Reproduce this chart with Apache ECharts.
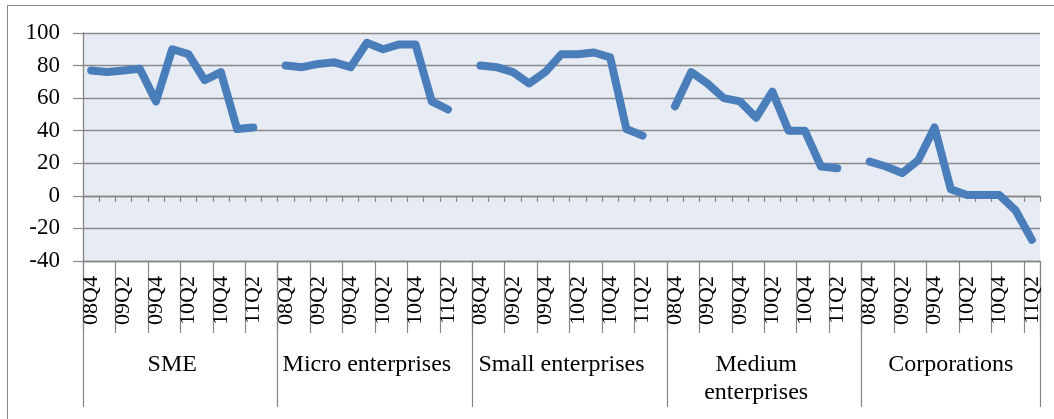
<!DOCTYPE html>
<html>
<head>
<meta charset="utf-8">
<script src="https://cdn.jsdelivr.net/npm/echarts@6/dist/echarts.min.js"></script>
<style>
  html, body { margin: 0; padding: 0; background: #fff; overflow: hidden; }
  #wrap { position: relative; width: 1054px; height: 419px; overflow: hidden; background: #fff; }
  #frame { position: absolute; left: 7px; top: 5px; width: 1100px; height: 500px;
           border: 1.5px solid #8a8a8a; box-sizing: border-box; }
  #chart { position: absolute; left: 0; top: 0; width: 1054px; height: 419px; }
</style>
</head>
<body>
<div id="wrap"><div id="frame"></div><div id="chart"></div></div>
<script>
// Enterprise groups and the quarters reported for each of them
const groups = ['SME', 'Micro enterprises', 'Small enterprises', 'Medium\nenterprises', 'Corporations'];
const quarters = ['08Q4', '09Q1', '09Q2', '09Q3', '09Q4', '10Q1', '10Q2', '10Q3', '10Q4', '11Q1', '11Q2'];

// Values per group, one per quarter
const sme          = [77, 76, 77, 78, 58, 90, 87, 71, 76, 41, 42];
const micro        = [80, 79, 81, 82, 79, 94, 90, 93, 93, 58, 53];
const small        = [80, 79, 76, 69, 76, 87, 87, 88, 85, 41, 37];
const medium       = [55, 76, 69, 60, 58, 48, 64, 40, 40, 18, 17];
const corporations = [21, 18, 14, 22, 42, 4, 0.5, 0.5, 0.5, -9, -27];

// Value axis ticks
const yMin = -40, yMax = 100, yStep = 20;

const FONT = '"Liberation Serif", "Times New Roman", serif';
const axisGray = '#868686';
const gridGray = '#8a8a8a';

// Flatten groups onto one category axis, with an empty slot between groups
const groupValues = [sme, micro, small, medium, corporations];
const quarterCats = [];
const groupCats = [];
const values = [];
const groupStarts = [];
groupValues.forEach((vals, g) => {
  groupStarts.push(quarterCats.length);
  quarters.forEach((q, i) => {
    quarterCats.push(q);
    groupCats.push(i === 5 ? groups[g] : '');
    values.push(vals[i]);
  });
  if (g < groupValues.length - 1) {
    quarterCats.push('');
    groupCats.push('');
    values.push(null);
  }
});

const chart = echarts.init(document.getElementById('chart'), null, { renderer: 'canvas' });
chart.setOption({
  animation: false,
  backgroundColor: 'transparent',
  grid: {
    left: 83, right: 14, top: 33, bottom: 158,
    show: true, backgroundColor: '#e6ebf4', borderWidth: 0
  },
  xAxis: [
    {
      // axis line crossing at zero, with a tick per quarter
      type: 'category', data: quarterCats, position: 'bottom', boundaryGap: true,
      axisLine: { show: true, onZero: true, lineStyle: { color: axisGray, width: 1.3 } },
      axisTick: { show: true, interval: 0, length: 6, lineStyle: { color: axisGray, width: 1.2 } },
      axisLabel: { show: false },
      splitLine: { show: false }
    },
    {
      // quarter labels along the bottom
      type: 'category', data: quarterCats, position: 'bottom', boundaryGap: true,
      axisLine: { show: true, onZero: false, lineStyle: { color: axisGray, width: 1.3 } },
      axisTick: { show: true, interval: 1, length: 72, lineStyle: { color: axisGray, width: 1.2 } },
      axisLabel: {
        interval: 1, rotate: 90, margin: 15,
        fontFamily: FONT, fontSize: 22, color: '#000'
      },
      splitLine: { show: false }
    },
    {
      // enterprise group labels
      type: 'category', data: groupCats, position: 'bottom', boundaryGap: true,
      axisLine: { show: false, onZero: false },
      axisTick: {
        show: true, length: 146, lineStyle: { color: axisGray, width: 1.2 },
        interval: (idx) => groupStarts.indexOf(idx) !== -1
      },
      axisLabel: {
        interval: 0, margin: 90,
        fontFamily: FONT, fontSize: 24, lineHeight: 28, color: '#000'
      },
      splitLine: { show: false }
    }
  ],
  yAxis: {
    type: 'value', min: yMin, max: yMax, interval: yStep,
    axisLine: { show: true, lineStyle: { color: axisGray, width: 1.3 } },
    axisTick: { show: true, length: 10, lineStyle: { color: axisGray, width: 1.2 } },
    axisLabel: { margin: 23, fontFamily: FONT, fontSize: 23, color: '#000' },
    splitLine: { show: true, lineStyle: { color: gridGray, width: 1.3 } }
  },
  series: [
    {
      type: 'line', data: values, xAxisIndex: 0, yAxisIndex: 0,
      symbol: 'none', connectNulls: false, silent: true, z: 3,
      lineStyle: { color: '#4a7ebb', width: 8, cap: 'round', join: 'round' }
    }
  ]
});
</script>
</body>
</html>
